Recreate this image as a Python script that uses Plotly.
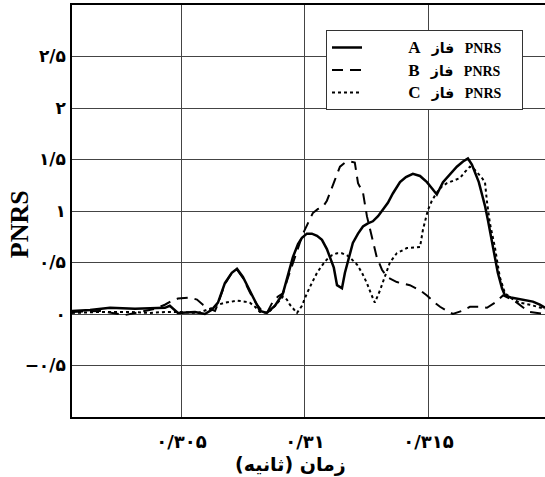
import plotly.graph_objects as go

# Time axis (s) and PNRS values for each phase
time_a = [0.30057, 0.30130, 0.30211, 0.30312, 0.30433, 0.30453, 0.30486, 0.30555,
          0.30595, 0.30623, 0.30648, 0.30676, 0.30704, 0.30725, 0.30749, 0.30777,
          0.30798, 0.30818, 0.30846, 0.30879, 0.30911, 0.30931, 0.30951, 0.30972,
          0.30988, 0.31008, 0.31028, 0.31049, 0.31069, 0.31089, 0.31101, 0.31117,
          0.31130, 0.31150, 0.31162, 0.31178, 0.31194, 0.31215, 0.31235, 0.31255,
          0.31275, 0.31296, 0.31316, 0.31336, 0.31356, 0.31385, 0.31409, 0.31437,
          0.31466, 0.31494, 0.31514, 0.31534, 0.31559, 0.31587, 0.31615, 0.31640,
          0.31660, 0.31676, 0.31688, 0.31704, 0.31717, 0.31729, 0.31741, 0.31761,
          0.31781, 0.31798, 0.31810, 0.31834, 0.31858, 0.31891, 0.31923, 0.31951,
          0.31972]
pnrs_a = [0.03, 0.04, 0.06, 0.05, 0.06, 0.08, 0.01, 0.02,
          0.00, 0.04, 0.11, 0.30, 0.40, 0.44, 0.36, 0.22,
          0.12, 0.03, 0.01, 0.08, 0.20, 0.38, 0.55, 0.68,
          0.74, 0.78, 0.78, 0.76, 0.72, 0.63, 0.55, 0.45,
          0.28, 0.25, 0.40, 0.55, 0.69, 0.78, 0.85, 0.88,
          0.90, 0.95, 1.01, 1.08, 1.17, 1.28, 1.33, 1.36,
          1.34, 1.28, 1.22, 1.16, 1.28, 1.36, 1.43, 1.48,
          1.51, 1.45, 1.37, 1.28, 1.16, 1.05, 0.91, 0.65,
          0.40, 0.25, 0.18, 0.16, 0.15, 0.14, 0.12, 0.09,
          0.06]

time_b = [0.30057, 0.30170, 0.30271, 0.30332, 0.30393, 0.30433, 0.30462, 0.30486,
          0.30534, 0.30563, 0.30587, 0.30615, 0.30636, 0.30648, 0.30676, 0.30704,
          0.30725, 0.30749, 0.30777, 0.30806, 0.30826, 0.30846, 0.30870, 0.30891,
          0.30911, 0.30931, 0.30951, 0.30972, 0.30992, 0.31012, 0.31032, 0.31053,
          0.31073, 0.31089, 0.31101, 0.31121, 0.31142, 0.31162, 0.31182, 0.31202,
          0.31215, 0.31235, 0.31251, 0.31271, 0.31291, 0.31312, 0.31332, 0.31372,
          0.31425, 0.31466, 0.31494, 0.31526, 0.31547, 0.31575, 0.31599, 0.31636,
          0.31668, 0.31709, 0.31737, 0.31769, 0.31802, 0.31830, 0.31858, 0.31891,
          0.31911, 0.31972]
pnrs_b = [0.02, 0.03, -0.01, 0.02, 0.05, 0.09, 0.13, 0.15,
          0.16, 0.14, 0.09, 0.05, 0.03, 0.10, 0.29, 0.40,
          0.43, 0.35, 0.21, 0.09, 0.03, 0.01, 0.12, 0.17,
          0.20, 0.35, 0.49, 0.64, 0.78, 0.88, 0.98, 1.02,
          1.04, 1.10, 1.17, 1.30, 1.43, 1.47, 1.48, 1.47,
          1.27, 1.18, 0.95, 0.75, 0.55, 0.43, 0.36, 0.31,
          0.28, 0.23, 0.18, 0.11, 0.07, 0.03, 0.00, 0.03,
          0.07, 0.07, 0.06, 0.11, 0.18, 0.15, 0.11, 0.05,
          0.02, 0.00]

time_c = [0.30057, 0.30170, 0.30291, 0.30372, 0.30433, 0.30486, 0.30567, 0.30615,
          0.30648, 0.30676, 0.30704, 0.30725, 0.30757, 0.30777, 0.30798, 0.30818,
          0.30850, 0.30879, 0.30911, 0.30927, 0.30939, 0.30968, 0.30988, 0.31008,
          0.31028, 0.31049, 0.31069, 0.31089, 0.31109, 0.31130, 0.31150, 0.31170,
          0.31190, 0.31211, 0.31231, 0.31251, 0.31267, 0.31283, 0.31304, 0.31324,
          0.31344, 0.31372, 0.31413, 0.31466, 0.31478, 0.31498, 0.31514, 0.31534,
          0.31555, 0.31575, 0.31607, 0.31628, 0.31648, 0.31668, 0.31684, 0.31696,
          0.31717, 0.31729, 0.31737, 0.31749, 0.31769, 0.31789, 0.31810, 0.31838,
          0.31870, 0.31911, 0.31939, 0.31972]
pnrs_c = [0.01, 0.02, 0.02, 0.01, 0.02, 0.02, 0.01, 0.05,
          0.09, 0.11, 0.12, 0.13, 0.12, 0.11, 0.07, 0.02,
          0.01, 0.08, 0.17, 0.14, 0.09, 0.01, 0.08, 0.20,
          0.30, 0.40, 0.47, 0.53, 0.57, 0.59, 0.59, 0.57,
          0.53, 0.48, 0.40, 0.30, 0.20, 0.11, 0.23, 0.36,
          0.50, 0.59, 0.64, 0.65, 0.82, 1.01, 1.10, 1.18,
          1.24, 1.27, 1.30, 1.32, 1.38, 1.43, 1.41, 1.38,
          1.32, 1.28, 1.09, 0.88, 0.65, 0.36, 0.20, 0.15,
          0.11, 0.09, 0.07, 0.05]

x_ticks = [0.305, 0.31, 0.315]
x_tick_text = ["۰/۳۰۵", "۰/۳۱", "۰/۳۱۵"]
y_ticks = [-0.5, 0, 0.5, 1, 1.5, 2, 2.5]
y_tick_text = ["−۰/۵", "۰", "۰/۵", "۱", "۱/۵", "۲", "۲/۵"]
phases = ["A", "B", "C"]
x_title = "(ثانیه) زمان"
y_title = "PNRS"

NB = "\u00a0"


def legend_label(phase):
    # phase letter large, "فاز PNRS" small, padded so the text sits right of the sample
    return (NB * 11 + "<span style='font-size:17px'><b>" + phase + "</b></span>" + NB * 3
            + "<span style='font-size:14px'><b>فاز" + NB * 3 + "PNRS</b></span>" + NB * 4)


styles = [
    dict(color="black", width=2.5),
    dict(color="black", width=2, dash="11px,7px"),
    dict(color="black", width=2, dash="dot"),
]
series = [(time_a, pnrs_a), (time_b, pnrs_b), (time_c, pnrs_c)]

fig = go.Figure()
for phase, (t, v), st in zip(phases, series, styles):
    fig.add_trace(go.Scatter(x=t, y=v, mode="lines", name=legend_label(phase), line=st))

fig.add_annotation(text="<b>" + y_title + "</b>", xref="paper", yref="paper",
                   x=-0.112, y=0.468, xanchor="center", yanchor="middle",
                   textangle=-90, showarrow=False,
                   font=dict(family="Liberation Serif", size=26, color="black"))
fig.add_annotation(text="<b>" + x_title + "</b>", xref="paper", yref="paper",
                   x=0.461, y=-0.1165, xanchor="center", yanchor="middle",
                   showarrow=False,
                   font=dict(family="DejaVu Sans", size=19, color="black"))

fig.update_layout(
    width=545, height=477,
    margin=dict(l=72, r=0, t=5, b=60),
    paper_bgcolor="white", plot_bgcolor="white",
    showlegend=True,
    legend=dict(
        x=0.537, y=0.939, xanchor="left", yanchor="top",
        bgcolor="white", bordercolor="#333", borderwidth=1,
        font=dict(family="Liberation Serif, DejaVu Sans", size=15, color="black"),
    ),
    xaxis=dict(
        range=[0.30057, 0.31972],
        tickmode="array", tickvals=x_ticks, ticktext=x_tick_text,
        showgrid=True, gridcolor="#444", gridwidth=1,
        showline=True, linecolor="black", linewidth=1.5, mirror=True,
        zeroline=False, ticks="", ticklabelstandoff=8,
        tickfont=dict(family="DejaVu Sans", size=18, color="black", weight="bold"),
    ),
    yaxis=dict(
        range=[-1, 3],
        tickmode="array", tickvals=y_ticks, ticktext=y_tick_text,
        showgrid=True, gridcolor="#444", gridwidth=1,
        showline=True, linecolor="black", linewidth=1.5, mirror=False,
        zeroline=False, ticks="", ticklabelstandoff=1,
        tickfont=dict(family="DejaVu Sans", size=17, color="black", weight="bold"),
    ),
)

fig.write_html("out.html")
